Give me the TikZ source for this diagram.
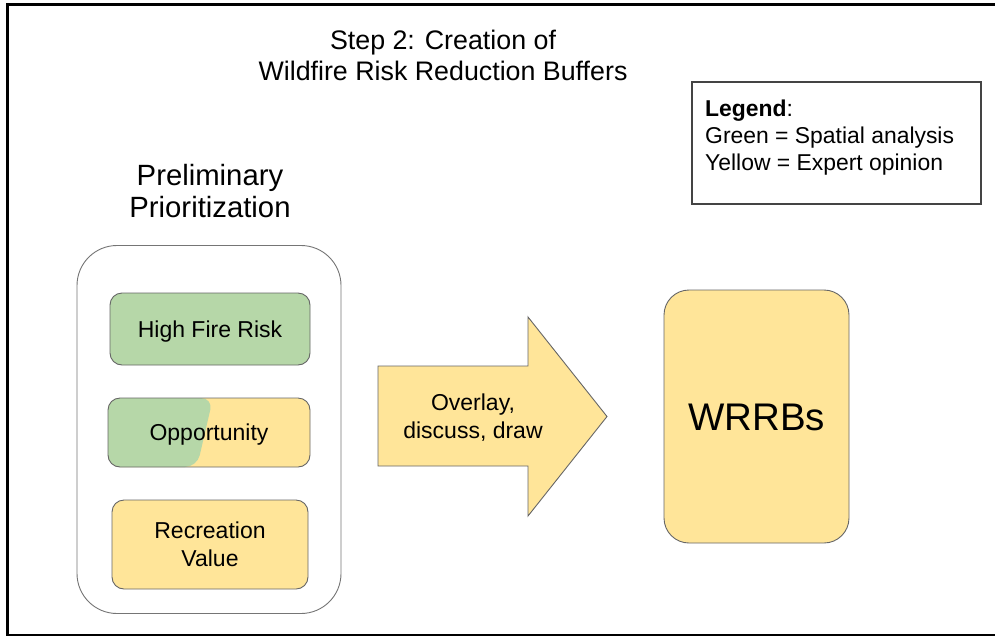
\documentclass[tikz,border=0pt]{standalone}
\usepackage{fontspec}
\setmainfont{Liberation Sans}
\usetikzlibrary{calc}
\definecolor{lgreen}{HTML}{B6D7A8}
\definecolor{lyellow}{HTML}{FFE599}
\definecolor{edgegray}{HTML}{666666}
\definecolor{legendgray}{HTML}{444444}
\begin{document}
\begin{tikzpicture}[x=1pt,y=-1pt,
  txt/.style={inner sep=0pt, align=center, text=black},
  fbox/.style={draw=edgegray, line width=0.9pt, rounded corners=12pt, inner sep=0pt,
    align=center, font=\fontsize{23}{28}\selectfont},
  greenbox/.style={fbox, fill=lgreen},
  yellowbox/.style={fbox, fill=lyellow},
  onecap/.style={text height=16.5pt, text depth=0pt}
]
\useasboundingbox (0,0) rectangle (995,635);
\clip (0,0) rectangle (995,635);
\fill[white] (0,0) rectangle (995,635);
\draw[line width=3pt] (7.5,4.7) rectangle (1010,635);

% title
\node[txt, anchor=north, font=\fontsize{26.8}{31}\selectfont] (title) at (443,29.5)
  {Step 2: Creation of\\Wildfire Risk Reduction Buffers};

% legend
\node[draw=legendgray, line width=1.1pt, minimum width=289pt, minimum height=122pt, inner sep=0pt]
  (legendbox) at (836.5,143) {};
\node[txt, anchor=north west, align=left, font=\fontsize{22.9}{27}\selectfont] (legend) at (705,99.5)
  {\textbf{Legend}:\\Green = Spatial analysis\\Yellow = Expert opinion};

% preliminary prioritization
\node[txt, anchor=north, font=\fontsize{29.3}{31.5}\selectfont] (prelimtitle) at (210,164.5)
  {Preliminary\\Prioritization};
\node[draw=edgegray!90, line width=0.9pt, rounded corners=40pt, minimum width=264pt,
  minimum height=368pt, inner sep=0pt] (prelimbox) at (209,429.5) {};

\node[greenbox, onecap, minimum width=200pt, minimum height=72pt] (fire) at (210,329) {High Fire Risk};
\node[yellowbox, onecap, minimum width=202pt, minimum height=69pt,
  path picture={\fill[lgreen] (path picture bounding box.north west)
    -- ($(path picture bounding box.north west)+(105,0)$)
    -- ($(path picture bounding box.south west)+(89,0)$)
    -- (path picture bounding box.south west) -- cycle;}]
  (opp) at (209,432.5) {Opportunity};
\node[yellowbox, minimum width=196pt, minimum height=89pt] (rec) at (210,544.5) {Recreation\\Value};

% arrow
\filldraw[fill=lyellow, draw=edgegray, line width=0.9pt, line join=miter]
  (378,366) -- (528,366) -- (528,317) -- (607,416.5) -- (528,516) -- (528,466) -- (378,466) -- cycle;
\node[txt, font=\fontsize{23}{28}\selectfont] (arrowtext) at (473,417.5) {Overlay,\\discuss, draw};

% WRRBs
\node[yellowbox, rounded corners=25pt, minimum width=185pt, minimum height=253pt,
  font=\fontsize{38.5}{44}\selectfont, text height=27pt, text depth=0pt] (wrrbs) at (756.5,416.5) {WRRBs};
\end{tikzpicture}
\end{document}
